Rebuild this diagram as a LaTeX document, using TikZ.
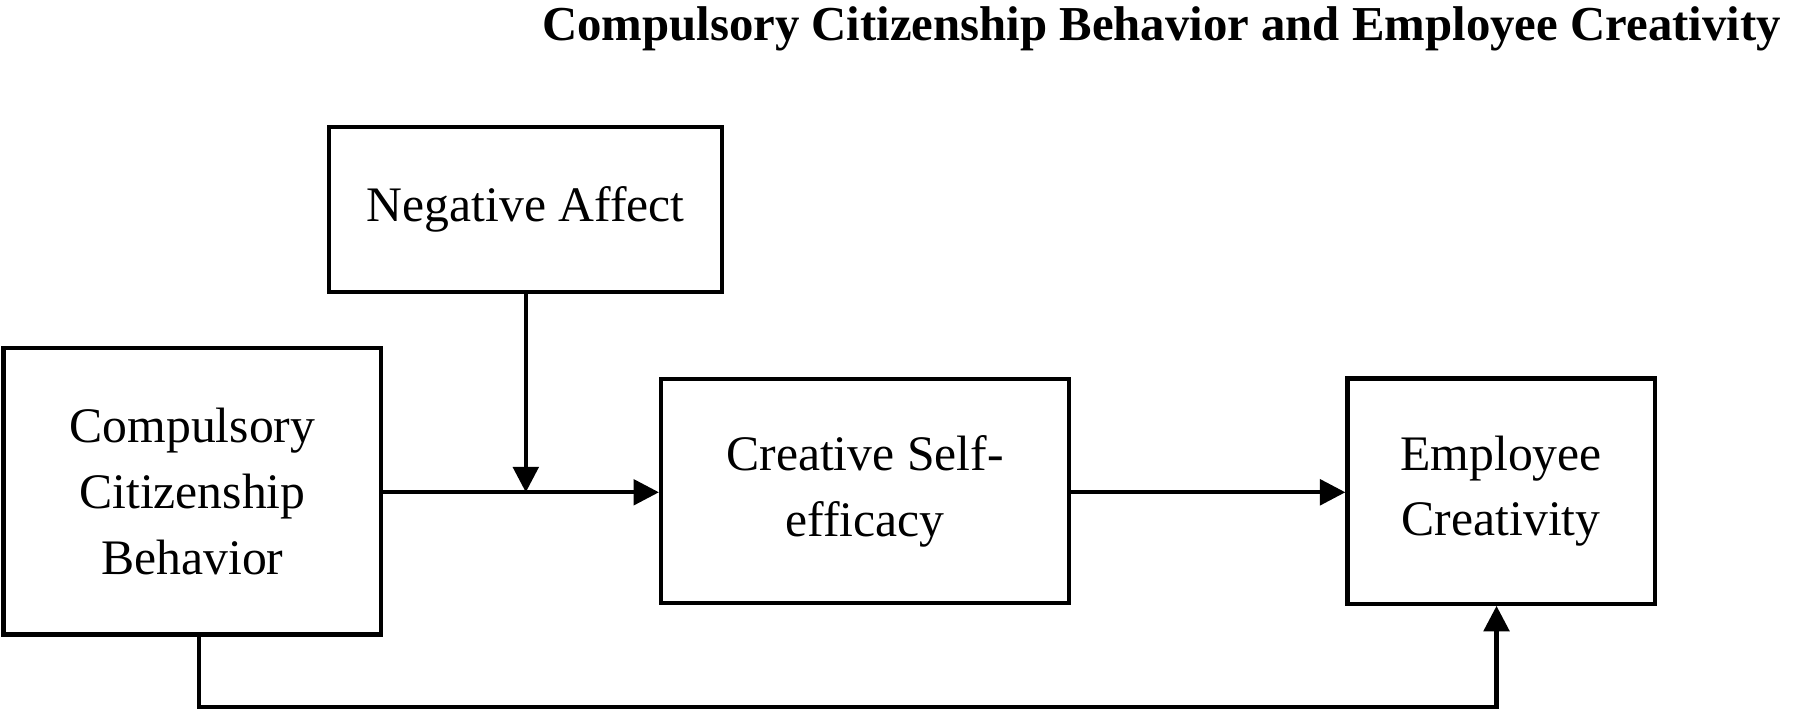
\documentclass[tikz,border=0pt]{standalone}
\usepackage{fontspec}
\setmainfont{Liberation Serif}
\usetikzlibrary{arrows.meta}
\begin{document}
\begin{tikzpicture}[x=0.5pt,y=-0.5pt,
  box/.style={draw=black,line width=1.8pt,align=center,inner sep=0pt,
    font=\fontsize{21.5}{28.5}\selectfont},
  conn/.style={line width=1.8pt,-{Triangle[length=11pt,width=11pt]}}]
\useasboundingbox (0,0) rectangle (1568,620);
\node[anchor=base east,font=\fontsize{21.1}{26}\selectfont\bfseries] (title) at (1548,35)
  {Compulsory Citizenship Behavior and Employee Creativity};
\node[box,minimum width=340pt*0.5,minimum height=143pt*0.5] (na) at (455,181.5) {Negative Affect};
\node[box,minimum width=327pt*0.5,minimum height=248pt*0.5] (ccb) at (166.5,425) {Compulsory\\Citizenship\\Behavior};
\node[box,minimum width=353pt*0.5,minimum height=194pt*0.5] (cse) at (748.5,425) {Creative Self-\\efficacy};
\node[box,minimum width=266pt*0.5,minimum height=195pt*0.5] (ec) at (1299,425) {Employee\\Creativity};
\coordinate (m) at (455,426);
\coordinate (b1) at (172,612);
\coordinate (b2) at (1295,612);
\draw[conn] (ccb.east |- m) -- (cse.west |- m);
\draw[conn] (na.south) -- (m);
\draw[conn] (cse.east |- m) -- (ec.west |- m);
\draw[conn] (ccb.south -| b1) -- (b1) -- (b2) -- (ec.south -| b2);
\end{tikzpicture}
\end{document}
